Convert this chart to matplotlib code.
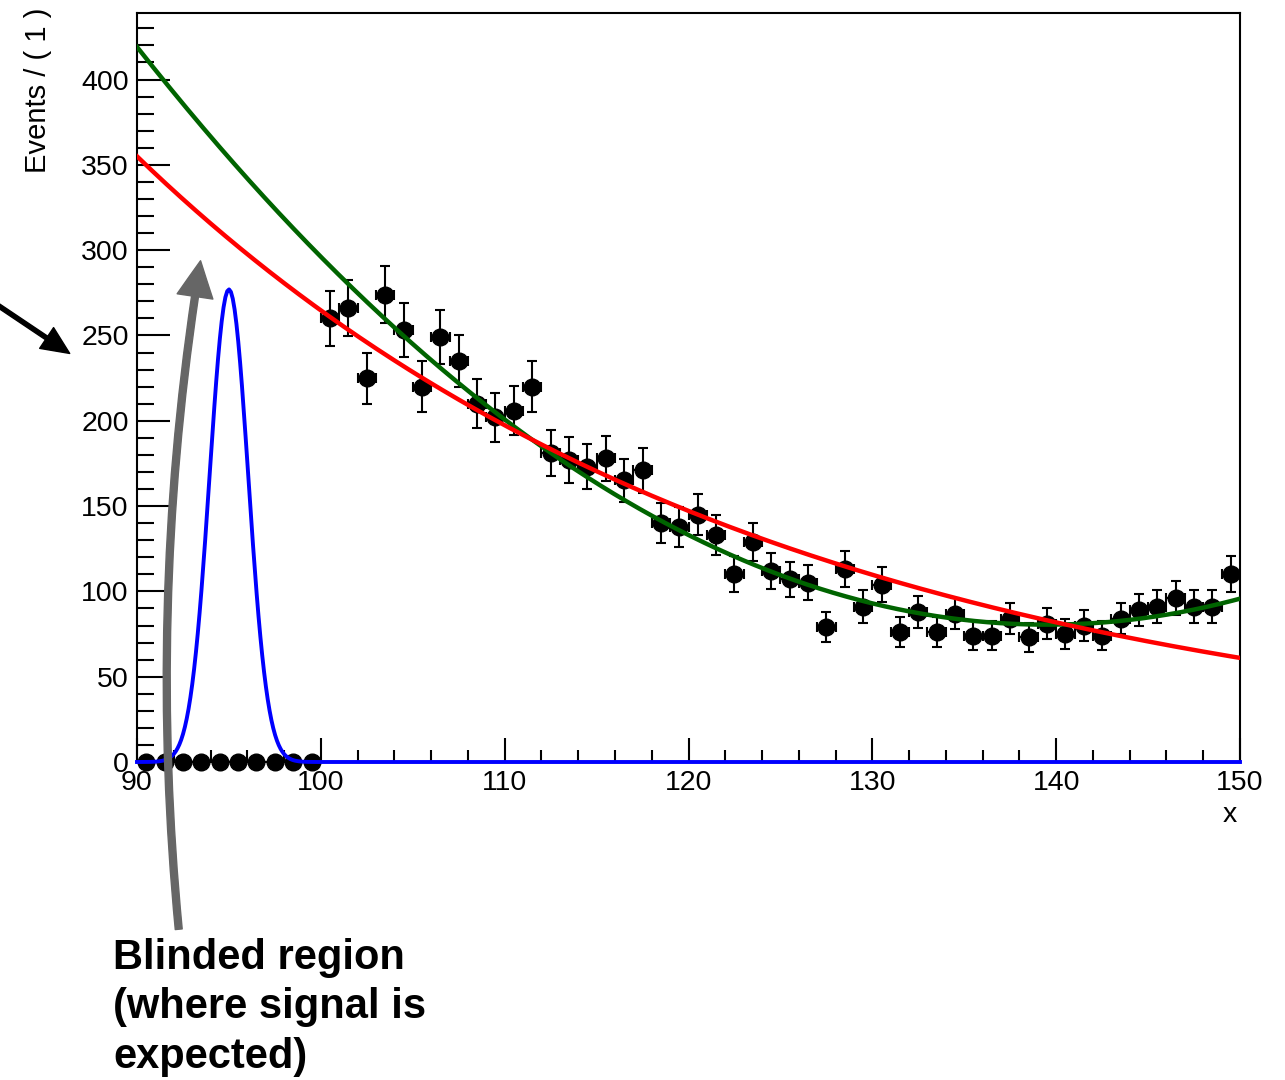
import numpy as np
import matplotlib.pyplot as plt
from matplotlib.patches import FancyArrowPatch
from matplotlib.ticker import MultipleLocator

plt.rcParams['font.family'] = ['Liberation Sans', 'DejaVu Sans']

# Data (bin centres and counts)
x_blind = [90.5, 91.5, 92.5, 93.5, 94.5, 95.5, 96.5, 97.5, 98.5, 99.5]
y_blind = [0, 0, 0, 0, 0, 0, 0, 0, 0, 0]

x_data = [100.5, 101.5, 102.5, 103.5, 104.5, 105.5, 106.5, 107.5, 108.5, 109.5,
          110.5, 111.5, 112.5, 113.5, 114.5, 115.5, 116.5, 117.5, 118.5, 119.5,
          120.5, 121.5, 122.5, 123.5, 124.5, 125.5, 126.5, 127.5, 128.5, 129.5,
          130.5, 131.5, 132.5, 133.5, 134.5, 135.5, 136.5, 137.5, 138.5, 139.5,
          140.5, 141.5, 142.5, 143.5, 144.5, 145.5, 146.5, 147.5, 148.5, 149.5]
y_data = [260, 266, 225, 274, 253, 220, 249, 235, 210, 202,
          206, 220, 181, 177, 173, 178, 165, 171, 140, 138,
          145, 133, 110, 129, 112, 107, 105, 79, 113, 91,
          104, 76, 88, 76, 87, 74, 74, 84, 73, 81,
          75, 80, 74, 84, 89, 91, 96, 91, 91, 110]

# Fit results
expo_norm, expo_slope = 355.0, 0.02935        # red: exponential background
poly_min, poly_x0, poly_c2 = 80.5, 139.5, 0.1382  # green: 2nd order polynomial
sig_amp, sig_mean, sig_width = 277.0, 95.0, 1.05  # blue: signal shape

x_range = (90, 150)
y_range = (0, 439)

fig = plt.figure(figsize=(12.85, 10.8), dpi=100)
ax = fig.add_axes([137 / 1285, 1 - 762 / 1080, 1103 / 1285, 749 / 1080])

xf = np.linspace(x_range[0], x_range[1], 600)
red = expo_norm * np.exp(-expo_slope * (xf - x_range[0]))
green = poly_min + poly_c2 * (xf - poly_x0) ** 2
blue = sig_amp * np.exp(-0.5 * ((xf - sig_mean) / sig_width) ** 2)

# data points
ax.errorbar(x_data, y_data, yerr=np.sqrt(y_data), xerr=0.5, fmt='o', color='black',
            ms=12, elinewidth=1.5, capsize=3.5, capthick=1.5, zorder=3)
ax.plot(x_blind, y_blind, 'o', color='black', ms=12, clip_on=False, zorder=3)

ax.plot(xf, green, color='#006400', lw=3.2, zorder=4)
ax.plot(xf, red, color='#ff0000', lw=3.2, zorder=5)
ax.plot(xf, blue, color='#0000ff', lw=2.8, zorder=6, clip_on=False)

ax.set_xlim(*x_range)
ax.set_ylim(*y_range)

ax.xaxis.set_major_locator(MultipleLocator(10))
ax.xaxis.set_minor_locator(MultipleLocator(2))
ax.yaxis.set_major_locator(MultipleLocator(50))
ax.yaxis.set_minor_locator(MultipleLocator(10))
ax.tick_params(axis='both', which='both', direction='in', width=1.5, labelsize=20.5, colors='black')
ax.tick_params(axis='x', which='major', length=17, pad=6)
ax.tick_params(axis='x', which='minor', length=8.5)
ax.tick_params(axis='y', which='major', length=24, pad=6)
ax.tick_params(axis='y', which='minor', length=12)
for s in ax.spines.values():
    s.set_linewidth(1.5)

fig.text(1230 / 1285, 1 - 815 / 1080, 'x', fontsize=20.5, ha='center', va='center')
fig.text(38 / 1285, 1 - 8 / 1080, 'Events / ( 1 )', fontsize=21, rotation=90,
         ha='center', va='top')

# annotations in figure pixel coordinates
def fp(px, py):
    return (px / 1285, 1 - py / 1080)

black_arrow = FancyArrowPatch(fp(-10, 300), fp(72, 355), transform=fig.transFigure,
                              arrowstyle='simple,tail_width=3,head_width=18,head_length=20',
                              color='black', mutation_scale=1)
fig.add_artist(black_arrow)

gray_arrow = FancyArrowPatch(fp(179, 932), fp(201, 258), transform=fig.transFigure,
                             connectionstyle='arc3,rad=-0.065',
                             arrowstyle='simple,tail_width=5,head_width=26,head_length=26',
                             color='#666666', mutation_scale=1, zorder=10)
fig.add_artist(gray_arrow)

fig.text(113 / 1285, 1 - 938 / 1080, 'Blinded region\n(where signal is\nexpected)',
         fontsize=30, fontweight='bold', ha='left', va='top', linespacing=1.3)

fig.savefig('out.png', dpi=100)
